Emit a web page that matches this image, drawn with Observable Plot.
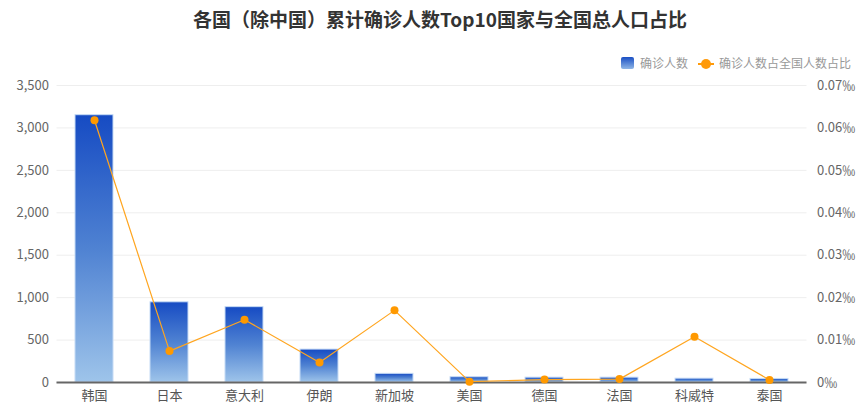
<!DOCTYPE html>
<html><head><meta charset="utf-8">
<script src="https://cdn.jsdelivr.net/npm/d3@7"></script>
<script src="https://cdn.jsdelivr.net/npm/@observablehq/plot@0.6"></script>
<style>
body{margin:0;background:#fff;font-family:"Microsoft YaHei","Noto Sans CJK SC",sans-serif;}
#wrap{position:relative;width:865px;height:415px;overflow:hidden;}
#title{position:absolute;left:0;width:880px;top:5px;text-align:center;font-size:19px;font-weight:bold;color:#333;}
#legend{position:absolute;left:621px;top:54px;font-size:12px;color:#999;white-space:nowrap;display:flex;align-items:center;}
.sw{display:inline-block;width:13px;height:12px;border-radius:2px;background:linear-gradient(#1a4fc4,#8fb6e6);margin-right:6px;}
.ln{display:inline-block;position:relative;width:16px;height:12px;margin:0 5px 0 10px;}
.ln:before{content:"";position:absolute;left:0;right:0;top:6px;height:2px;background:#ff9a0a;}
.ln:after{content:"";position:absolute;left:3px;top:2px;width:10px;height:10px;border-radius:50%;background:#ff9a0a;}
#chart{position:absolute;left:0;top:0;}
</style></head>
<body><div id="wrap"><div id="chart"></div>
<div id="title">各国（除中国）累计确诊人数Top10国家与全国总人口占比</div>
<div id="legend"><span class="sw"></span>确诊人数<span class="ln"></span>确诊人数占全国人数占比</div>
</div>
<script>
const countries = ["韩国","日本","意大利","伊朗","新加坡","美国","德国","法国","科威特","泰国"];
const cases = [3150, 945, 888, 388, 102, 62, 57, 57, 45, 42];
const ratioPermille = [0.0618, 0.0074, 0.0148, 0.0047, 0.0170, 0.0002, 0.0007, 0.0008, 0.0108, 0.0006];
const leftTicks = [0, 500, 1000, 1500, 2000, 2500, 3000, 3500];
const rightTickLabels = ["0‰","0.01‰","0.02‰","0.03‰","0.04‰","0.05‰","0.06‰","0.07‰"];

const k = 3500 / 0.07;
const rows = countries.map((c, i) => ({country: c, cases: cases[i], ratio: ratioPermille[i] * k}));

const plot = Plot.plot({
  width: 865, height: 415,
  marginTop: 85, marginBottom: 33, marginLeft: 56.5, marginRight: 58.5,
  style: {fontFamily: '"Microsoft YaHei","Noto Sans CJK SC",sans-serif', fontSize: "13px", background: "transparent"},
  x: {domain: countries, paddingInner: 0.49, paddingOuter: 0.245, align: 0.5},
  y: {domain: [0, 3500]},
  marks: [
    Plot.gridY(leftTicks, {stroke: "#eee", strokeOpacity: 1}),
    Plot.barY(rows, {x: "country", y: "cases", fill: "url(#barGrad)", stroke: "#c6dbf5", strokeWidth: 1}),
    Plot.ruleY([0], {stroke: "#666", strokeWidth: 2}),
    Plot.axisY(leftTicks, {anchor: "left", tickSize: 0, tickPadding: 8, tickFormat: d3.format(","), fill: "#666", label: null}),
    Plot.axisY(leftTicks, {anchor: "right", tickSize: 0, tickPadding: 10, tickFormat: (d, i) => rightTickLabels[i], fill: "#666", label: null}),
    Plot.axisX({tickSize: 0, tickPadding: 8, fill: "#555", label: null}),
    Plot.line(rows, {x: "country", y: "ratio", stroke: "#ffa51f", strokeWidth: 1.2}),
    Plot.dot(rows, {x: "country", y: "ratio", r: 4, fill: "#ff9900", stroke: "none"})
  ]
});
const ns = "http://www.w3.org/2000/svg";
const defs = document.createElementNS(ns, "defs");
defs.innerHTML = '<linearGradient id="barGrad" x1="0" y1="0" x2="0" y2="1"><stop offset="0" stop-color="#164bc3"/><stop offset="0.5" stop-color="#4f82d2"/><stop offset="1" stop-color="#9ec4ea"/></linearGradient>';
plot.insertBefore(defs, plot.firstChild);
document.getElementById("chart").appendChild(plot);
</script></body></html>
